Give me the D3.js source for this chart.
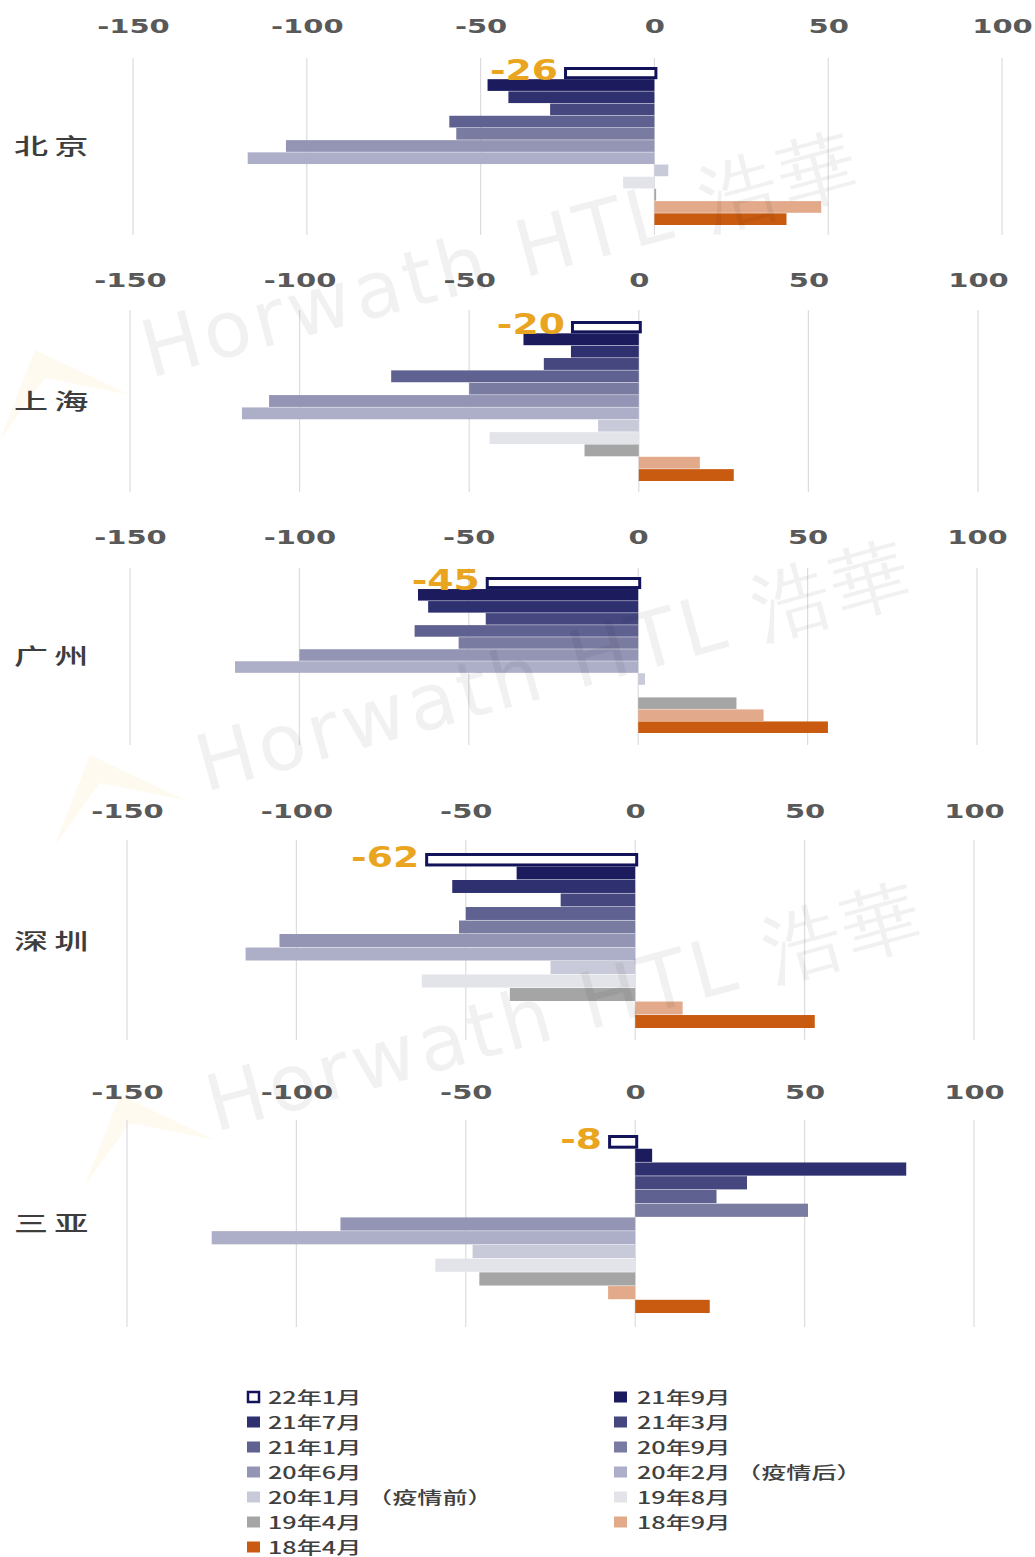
<!DOCTYPE html>
<html>
<head>
<meta charset="utf-8">
<script src="https://cdn.jsdelivr.net/npm/d3@7/dist/d3.min.js"></script>
<style>
  html, body { margin: 0; padding: 0; background: #ffffff; }
  svg { display: block; }
</style>
</head>
<body>
<svg id="chart" width="1035" height="1557"></svg>
<script>
// Series (legend order, also bar order from top to bottom inside each city block)
const seriesNames = [
  "22年1月", "21年9月", "21年7月", "21年3月", "21年1月", "20年9月", "20年6月",
  "20年2月 （疫情后）", "20年1月 （疫情前）", "19年8月", "19年4月", "18年9月", "18年4月"
];
const seriesColors = [
  "#ffffff", "#1b1b5e", "#2f306f", "#46477f", "#5f6190", "#7a7ba1", "#9495b5",
  "#adaec8", "#c9cad9", "#e3e4ea", "#a5a5a5", "#e2a98a", "#c95b11"
];

const cities = ["北京", "上海", "广州", "深圳", "三亚"];

// Values per city, one per series
const beijingValues   = [-26, -48, -42, -30, -59, -57, -106, -117, 4, -9, 0.5, 48, 38];
const shanghaiValues  = [-20, -34, -20, -28, -73, -50, -109, -117, -12, -44, -16, 18, 28];
const guangzhouValues = [-45, -65, -62, -45, -66, -53, -100, -119, 2, 0, 29, 37, 56];
const shenzhenValues  = [-62, -35, -54, -22, -50, -52, -105, -115, -25, -63, -37, 14, 53];
const sanyaValues     = [-8, 5, 80, 33, 24, 51, -87, -125, -48, -59, -46, -8, 22];

const cityValues = [beijingValues, shanghaiValues, guangzhouValues, shenzhenValues, sanyaValues];

const xTicks = [-150, -100, -50, 0, 50, 100];
const xDomain = [-150, 100];

// Panel geometry (pixel layout for each city block)
const panels = [
  { tickY: 25,   gridTop: 58,   gridBot: 235,  barTop: 67,   barBot: 225,  left: 133, right: 1002, labelY: 145 },
  { tickY: 279,  gridTop: 310,  gridBot: 492,  barTop: 321,  barBot: 481,  left: 130, right: 978,  labelY: 400 },
  { tickY: 536,  gridTop: 568,  gridBot: 745,  barTop: 577,  barBot: 733,  left: 130, right: 977,  labelY: 655 },
  { tickY: 810,  gridTop: 840,  gridBot: 1040, barTop: 853,  barBot: 1028, left: 127, right: 974,  labelY: 940 },
  { tickY: 1091, gridTop: 1120, gridBot: 1327, barTop: 1135, barBot: 1313, left: 127, right: 974,  labelY: 1222 }
];

const svg = d3.select("#chart");
const wideX = 1.45;   // horizontal text stretch used throughout the figure
const cjk = "'Noto Sans CJK SC', 'Noto Sans', sans-serif";
const num = "'DejaVu Sans', Verdana, sans-serif";
const fmt = d => String(d);   // plain hyphen-minus for negatives

// Watermark logos (faint chevrons) drawn underneath everything
const logoLayer = svg.append("g");
[[0, 440], [55, 845], [85, 1185]].forEach(([lx, ly]) => {
  logoLayer.append("path")
    .attr("d", `M${lx},${ly} L${lx + 35},${ly - 90} L${lx + 130},${ly - 45} L${lx + 45},${ly - 62} Z`)
    .attr("fill", "#f3d37a")
    .attr("opacity", 0.11);
});

cities.forEach((city, ci) => {
  const p = panels[ci];
  const values = cityValues[ci];
  const g = svg.append("g");

  const x = d3.scaleLinear().domain(xDomain).range([p.left, p.right]);
  const y = d3.scaleBand().domain(seriesNames).range([p.barTop, p.barBot]).paddingInner(0.04);

  // gridlines
  g.append("g")
    .selectAll("line")
    .data(xTicks)
    .join("line")
    .attr("x1", d => x(d)).attr("x2", d => x(d))
    .attr("y1", p.gridTop).attr("y2", p.gridBot)
    .attr("stroke", "#dcdcdf")
    .attr("stroke-width", 1.2);

  // top axis with tick labels
  const axis = g.append("g")
    .attr("transform", `translate(0,${p.tickY + 8})`)
    .call(d3.axisTop(x).tickValues(xTicks).tickSize(0).tickPadding(0).tickFormat(fmt));
  axis.select(".domain").remove();
  axis.selectAll("text")
    .attr("font-family", num)
    .attr("font-weight", "bold")
    .attr("font-size", 20)
    .attr("fill", "#595959")
    .attr("y", 0)
    .attr("dy", 0)
    .attr("transform", `scale(${wideX},1)`);

  // bars
  g.append("g")
    .selectAll("rect")
    .data(values.map((v, i) => ({ v, name: seriesNames[i], color: seriesColors[i], i })))
    .join("rect")
    .attr("x", d => x(Math.min(0, d.v)) + (d.i === 0 ? 1.5 : 0))
    .attr("y", d => y(d.name) + (d.i === 0 ? 1.5 : 0))
    .attr("width", d => Math.abs(x(d.v) - x(0)))
    .attr("height", d => y.bandwidth() - (d.i === 0 ? 2.5 : 0))
    .attr("fill", d => d.color)
    .attr("stroke", d => d.i === 0 ? "#13135a" : "none")
    .attr("stroke-width", d => d.i === 0 ? 3 : 0);

  // value label for the latest month
  const v0 = values[0];
  const lx = x(Math.min(0, v0)) - 6;
  g.append("g")
    .attr("transform", `translate(${lx},${y(seriesNames[0]) + y.bandwidth() + 1})`)
    .append("text")
    .attr("text-anchor", "end")
    .attr("transform", "scale(1.3,1)")
    .attr("font-family", num)
    .attr("font-weight", "bold")
    .attr("font-size", 29)
    .attr("fill", "#e9a520")
    .text(fmt(v0));

  // city label
  g.append("g")
    .attr("transform", `translate(14,${p.labelY + 9})`)
    .append("text")
    .attr("transform", "scale(1.55,1)")
    .attr("font-family", cjk)
    .attr("font-weight", 500)
    .attr("font-size", 22)
    .attr("letter-spacing", 4)
    .attr("fill", "#3d3d3d")
    .text(city);
});

// faint watermark text on top of the bars
const wm = svg.append("g").attr("pointer-events", "none");
[[150, 378, -15], [205, 792, -15.5], [215, 1132, -15.3]].forEach(([wx, wy, a]) => {
  wm.append("text")
    .attr("transform", `translate(${wx},${wy}) rotate(${a})`)
    .attr("font-family", num)
    .attr("font-size", 78)
    .attr("letter-spacing", 4)
    .attr("fill", "#000")
    .attr("opacity", 0.05)
    .text("Horwath HTL 浩華");
});

// legend
const legend = svg.append("g");
const colX = [247, 614];
const rowY0 = 1397, rowStep = 25;
seriesNames.forEach((name, i) => {
  const col = i % 2, row = Math.floor(i / 2);
  const lg = legend.append("g").attr("transform", `translate(${colX[col]},${rowY0 + row * rowStep})`);
  lg.append("rect")
    .attr("x", i === 0 ? 1 : 0)
    .attr("y", i === 0 ? -5 : -5.5)
    .attr("width", i === 0 ? 11 : 13)
    .attr("height", i === 0 ? 10 : 11)
    .attr("fill", seriesColors[i])
    .attr("stroke", i === 0 ? "#13135a" : "none")
    .attr("stroke-width", i === 0 ? 2.5 : 0);
  lg.append("g")
    .attr("transform", `translate(${col === 0 ? 21 : 23},6.5)`)
    .append("text")
    .attr("transform", "scale(1.48,1)")
    .attr("font-family", cjk)
    .attr("font-weight", 500)
    .attr("font-size", 17)
    .attr("fill", "#404040")
    .text(name);
});
</script>
</body>
</html>
